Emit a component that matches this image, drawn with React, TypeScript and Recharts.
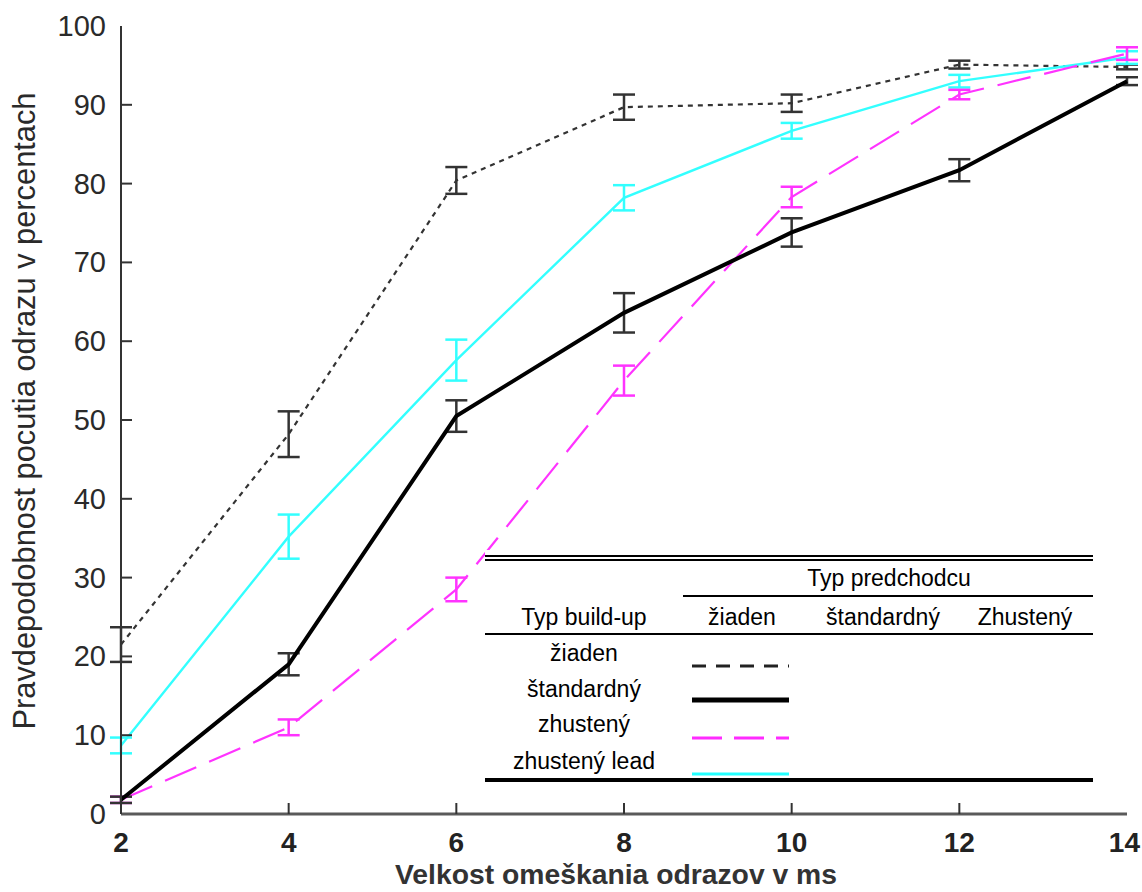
import { LineChart, Line, XAxis, YAxis, ErrorBar } from "recharts";

const delays = [2, 4, 6, 8, 10, 12, 14];
const yTicks = [0, 10, 20, 30, 40, 50, 60, 70, 80, 90, 100];

// build-up "žiaden"
const ziaden = [21.5, 48.2, 80.4, 89.7, 90.2, 95.1, 94.8];
const ziadenErr = [2.2, 2.9, 1.7, 1.6, 1.1, 0.5, 0.3];
// build-up "štandardný"
const standard = [1.8, 19, 50.5, 63.6, 73.8, 81.7, 93];
const standardErr = [0.4, 1.4, 2, 2.5, 1.8, 1.4, 0.5];
// build-up "zhustený"
const zhusteny = [1.8, 11, 28.5, 55, 78.3, 91.3, 96.5];
const zhustenyErr = [0.4, 1, 1.5, 1.9, 1.3, 0.6, 0.8];
// build-up "zhustený lead"
const lead = [8.7, 35.2, 57.6, 78.2, 86.7, 93, 96];
const leadErr = [1, 2.8, 2.6, 1.6, 1, 0.8, 0.8];

const legendHeader = ["žiaden", "štandardný", "Zhustený"];
const legendRows = ["žiaden", "štandardný", "zhustený", "zhustený lead"];

const data = delays.map((d, i) => ({
  delay: d,
  ziaden: ziaden[i],
  ziadenErr: ziadenErr[i],
  standard: standard[i],
  standardErr: standardErr[i],
  zhusteny: zhusteny[i],
  zhustenyErr: zhustenyErr[i],
  lead: lead[i],
  leadErr: leadErr[i],
}));

const sampleStyles = [
  { stroke: "#222", width: 3, dash: "14 10" },
  { stroke: "#000", width: 5, dash: undefined },
  { stroke: "#ff2bff", width: 3, dash: "30 12" },
  { stroke: "#22ffff", width: 3, dash: undefined },
];

const LeftTick = ({ x, y, payload }: any) => {
  const v = payload.value;
  return (
    <g>
      {v !== 0 && v !== 100 && (
        <line x1={x} x2={x + 11} y1={y} y2={y} stroke="#333" strokeWidth={2} />
      )}
      <text
        x={x - 15}
        y={y}
        textAnchor="end"
        dominantBaseline="central"
        fontSize={29}
        fontFamily="Liberation Sans, Arial, sans-serif"
        fill="#2a2a2a"
      >
        {v}
      </text>
    </g>
  );
};

const RightTick = ({ x, y, payload }: any) => {
  const v = payload.value;
  if (v === 0 || v === 100) return <g />;
  return <line x1={x} x2={x - 11} y1={y} y2={y} stroke="#333" strokeWidth={2} />;
};

const BottomTick = ({ x, y, payload }: any) => {
  const v = payload.value;
  const last = v === 14;
  return (
    <g>
      {v !== 2 && !last && (
        <line x1={x} x2={x} y1={y} y2={y - 11} stroke="#333" strokeWidth={2} />
      )}
      <text
        x={last ? x + 13 : x}
        y={y + 38}
        textAnchor={last ? "end" : "middle"}
        fontSize={28}
        fontWeight="bold"
        fontFamily="Liberation Sans, Arial, sans-serif"
        fill="#222"
      >
        {v}
      </text>
    </g>
  );
};

const TopTick = ({ x, y, payload }: any) => {
  const v = payload.value;
  if (v === 2 || v === 14) return <g />;
  return <line x1={x} x2={x} y1={y} y2={y + 11} stroke="#333" strokeWidth={2} />;
};

const YTitle = () => (
  <text
    x={24}
    y={411}
    transform="rotate(-90 24 411)"
    textAnchor="middle"
    dominantBaseline="central"
    fontSize={31}
    fontFamily="Liberation Sans, Arial, sans-serif"
    fill="#2a2a2a"
    textLength={637}
    lengthAdjust="spacingAndGlyphs"
  >
    Pravdepodobnost pocutia odrazu v percentach
  </text>
);

const XTitle = () => (
  <text
    x={616}
    y={884}
    textAnchor="middle"
    fontSize={28}
    fontWeight="bold"
    fontFamily="Liberation Sans, Arial, sans-serif"
    fill="#333"
    textLength={442}
    lengthAdjust="spacingAndGlyphs"
  >
    Velkost omeškania odrazov v ms
  </text>
);

const hLine = (top: number, left: number, right: number, h: number) => (
  <div
    key={`${top}-${left}`}
    style={{ position: "absolute", top: top - h / 2, left, width: right - left, height: h, background: "#000" }}
  />
);

const label = (text: string, cx: number, cy: number) => (
  <div
    key={`${text}-${cx}-${cy}`}
    style={{
      position: "absolute",
      left: cx,
      top: cy,
      transform: "translate(-50%, -50%)",
      whiteSpace: "nowrap",
      fontFamily: "Liberation Sans, Arial, sans-serif",
      fontSize: 23,
      lineHeight: "26px",
      color: "#000",
    }}
  >
    {text}
  </div>
);

const headerX = [742, 883, 1025];
const rowY = [653, 689, 724, 761];
const sampleY = [666, 700, 738, 774];

const LegendTable = () => (
  <div style={{ position: "absolute", left: 0, top: 0, width: 1142, height: 892, pointerEvents: "none" }}>
    <div style={{ position: "absolute", left: 485, top: 550, width: 608, height: 232, background: "#fff" }} />
    {hLine(556, 485, 1093, 1.5)}
    {hLine(560, 485, 1093, 1.5)}
    {label("Typ predchodcu", 889, 578)}
    {hLine(596, 683, 1093, 2)}
    {label("Typ build-up", 584, 617)}
    {legendHeader.map((h, i) => label(h, headerX[i], 617))}
    {hLine(634, 485, 1093, 2)}
    {legendRows.map((r, i) => label(r, 584, rowY[i]))}
    <svg style={{ position: "absolute", left: 0, top: 0 }} width={1142} height={892}>
      {sampleStyles.map((s, i) => (
        <line
          key={i}
          x1={692}
          x2={789}
          y1={sampleY[i]}
          y2={sampleY[i]}
          stroke={s.stroke}
          strokeWidth={s.width}
          strokeDasharray={s.dash}
        />
      ))}
    </svg>
    {hLine(780, 485, 1093, 4)}
  </div>
);

export default function App() {
  return (
    <div style={{ position: "absolute", left: 0, top: 0, width: 1142, height: 892, background: "#fff" }}>
      <LineChart width={1142} height={892} data={data} margin={{ top: 26, right: 15, bottom: 0, left: 0 }}>
        <XAxis
          dataKey="delay"
          type="number"
          domain={[2, 14]}
          ticks={delays}
          height={78}
          tickSize={0}
          tickMargin={0}
          tickLine={false}
          axisLine={{ stroke: "#5a5a5a", strokeWidth: 3 }}
          tick={BottomTick}
          label={<XTitle />}
        />
        <XAxis
          xAxisId="top"
          orientation="top"
          type="number"
          domain={[2, 14]}
          ticks={delays}
          height={0}
          tickSize={0}
          tickMargin={0}
          tickLine={false}
          axisLine={{ stroke: "#333", strokeWidth: 2 }}
          tick={TopTick}
        />
        <YAxis
          type="number"
          domain={[0, 100]}
          ticks={yTicks}
          width={121}
          tickSize={0}
          tickMargin={0}
          tickLine={false}
          axisLine={{ stroke: "#333", strokeWidth: 2 }}
          tick={LeftTick}
          label={<YTitle />}
        />
        <YAxis
          yAxisId="right"
          orientation="right"
          type="number"
          domain={[0, 100]}
          ticks={yTicks}
          width={0}
          tickSize={0}
          tickMargin={0}
          tickLine={false}
          axisLine={{ stroke: "#333", strokeWidth: 2 }}
          tick={RightTick}
        />
        <Line
          dataKey="ziaden"
          stroke="#333"
          strokeWidth={2.2}
          strokeDasharray="5 5"
          dot={false}
          isAnimationActive={false}
        >
          <ErrorBar dataKey="ziadenErr" width={11} stroke="#333" strokeWidth={2.5} direction="y" />
        </Line>
        <Line dataKey="lead" stroke="#33ffff" strokeWidth={2.4} dot={false} isAnimationActive={false}>
          <ErrorBar dataKey="leadErr" width={11} stroke="#33ffff" strokeWidth={2.5} direction="y" />
        </Line>
        <Line
          dataKey="zhusteny"
          stroke="#ff33ff"
          strokeWidth={2.2}
          strokeDasharray="34 14"
          dot={false}
          isAnimationActive={false}
        >
          <ErrorBar dataKey="zhustenyErr" width={11} stroke="#ff33ff" strokeWidth={2.5} direction="y" />
        </Line>
        <Line dataKey="standard" stroke="#000" strokeWidth={4} dot={false} isAnimationActive={false}>
          <ErrorBar dataKey="standardErr" width={11} stroke="#333" strokeWidth={2.5} direction="y" />
        </Line>
      </LineChart>
      <LegendTable />
    </div>
  );
}
